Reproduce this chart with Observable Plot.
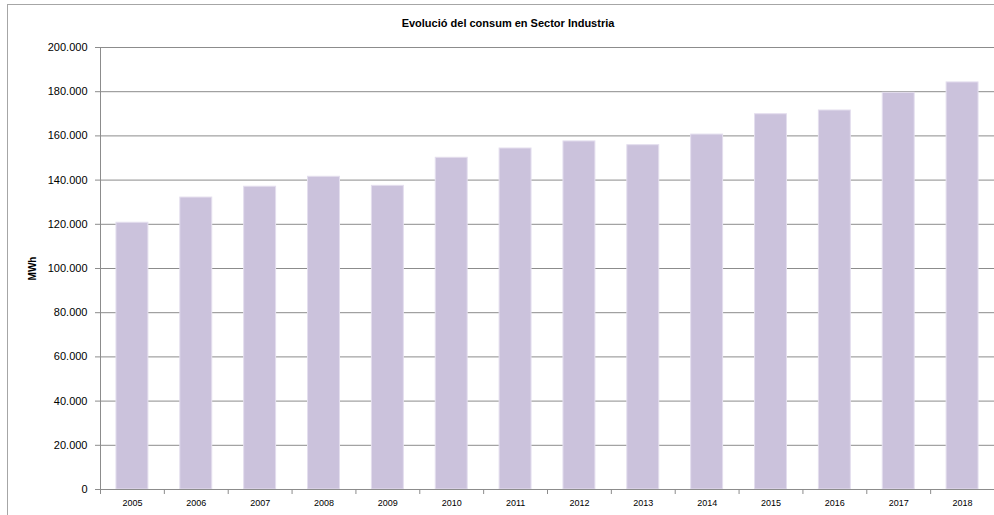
<!DOCTYPE html>
<html><head><meta charset="utf-8">
<script src="https://cdn.jsdelivr.net/npm/d3@7"></script>
<script src="https://cdn.jsdelivr.net/npm/@observablehq/plot@0.6"></script>
<style>
body{margin:0;background:#fff;font-family:"Liberation Sans",Arial,sans-serif}
#wrap{position:relative;width:994px;height:515px;overflow:hidden;background:#fff}
#frame{position:absolute;left:7px;top:4px;width:1100px;height:700px;border-left:1px solid #a6a6a6;border-top:1px solid #a6a6a6;box-sizing:border-box}
#title{position:absolute;left:0;top:17px;width:1016px;text-align:center;font-weight:bold;font-size:11px;color:#000}
#chart{position:absolute;left:0;top:0}
g[aria-label="y-axis label"] text{font-weight:bold;font-size:10px}
</style>
</head><body>
<div id="wrap"><div id="frame"></div><div id="chart"></div><div id="title">Evolució del consum en Sector Industria</div></div>
<script>
const years = ["2005","2006","2007","2008","2009","2010","2011","2012","2013","2014","2015","2016","2017","2018"];
const consum = [120700,132100,137000,141500,137400,150100,154300,157500,155800,160600,169800,171500,179500,184200];
const yTicks = [0,20000,40000,60000,80000,100000,120000,140000,160000,180000,200000];
const yLabel = "MWh";

const data = years.map((y,i)=>({year:y, value:consum[i]}));
const fmt = d3.formatLocale({decimal:",",thousands:".",grouping:[3],currency:["","€"]}).format(",");
const W=994,H=515,ML=100,MR=0,MT=47,MB=26;
const half = (W-ML-MR)/years.length/2;
const chart = Plot.plot({
  width:W,height:H,marginLeft:ML,marginRight:MR,marginTop:MT,marginBottom:MB,
  style:{fontFamily:'"Liberation Sans",Arial,sans-serif',fontSize:"11px",color:"#000",background:"transparent"},
  x:{domain:years,paddingInner:0.5,paddingOuter:0.25,round:false,label:null},
  y:{domain:[0,200000],label:null},
  marks:[
    Plot.gridY(yTicks,{stroke:"#8c8c8c",strokeOpacity:1}),
    Plot.barY(data,{x:"year",y:"value",fill:"#cbc2dc",stroke:"#e4deee",strokeWidth:1}),
    Plot.ruleY([0],{stroke:"#8c8c8c"}),
    Plot.frame({anchor:"left",stroke:"#8c8c8c"}),
    Plot.axisY({ticks:yTicks,tickFormat:fmt,tickSize:5,tickPadding:8,stroke:"#8c8c8c",label:yLabel,labelAnchor:"center",labelOffset:72,labelArrow:false}),
    Plot.axisX({tickSize:0,tickPadding:10,fontSize:9,label:null}),
    Plot.axisX({tickSize:5,text:null,dx:-half,stroke:"#8c8c8c",label:null})
  ]
});
document.getElementById("chart").appendChild(chart);
</script>
</body></html>
